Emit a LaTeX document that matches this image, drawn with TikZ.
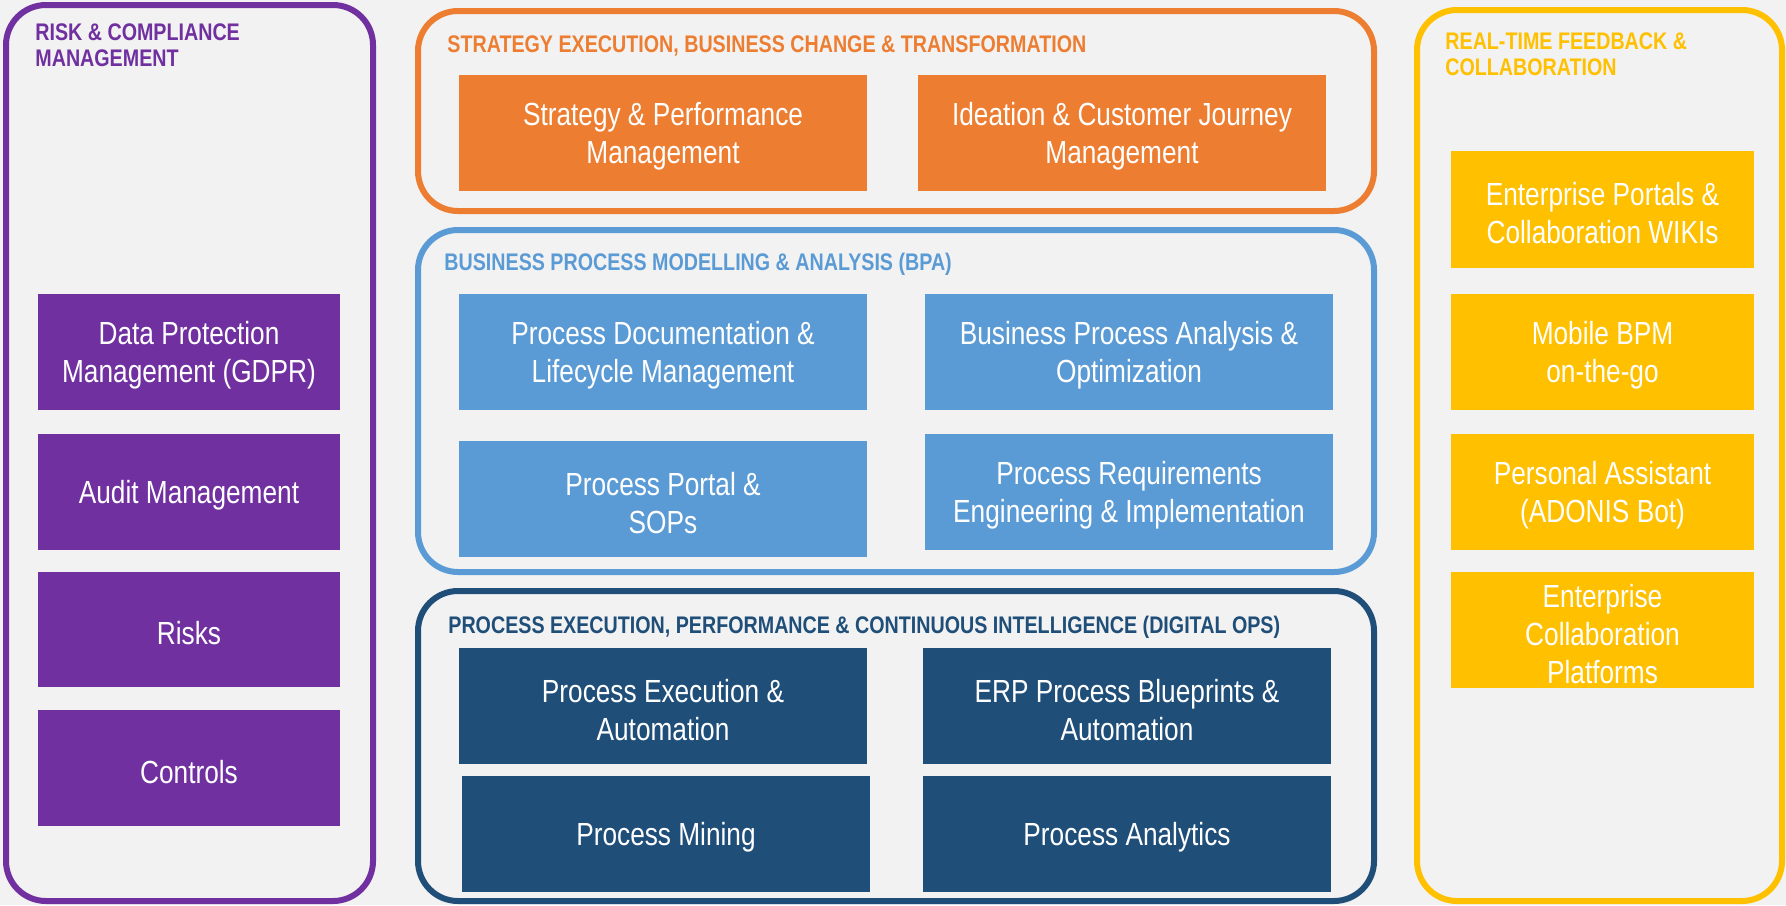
\documentclass[tikz,border=0pt]{standalone}
\usepackage{fontspec}
\setmainfont{Liberation Sans}[FakeStretch=0.82]
\usetikzlibrary{fit}
\definecolor{bg}{HTML}{F2F2F2}
\definecolor{cpurple}{HTML}{7030A0}
\definecolor{corange}{HTML}{ED7D31}
\definecolor{cblue}{HTML}{5B9BD5}
\definecolor{cdark}{HTML}{1F4E79}
\definecolor{cyellow}{HTML}{FFC000}
\tikzset{
  cont/.style={draw=#1, line width=3pt, rounded corners=20pt, inner sep=0pt},
  ttl/.style={text=#1, font=\bfseries\fontsize{12}{13}\selectfont, anchor=base west, inner sep=0pt, align=left},
  bx/.style={fill=#1, inner sep=0pt},
  txt/.style={inner sep=0pt, text=white, align=center, anchor=center, yshift=-1.8pt, font=\fontsize{16}{19}\selectfont},
}
\begin{document}
\begin{tikzpicture}[x=0.5pt,y=-0.5pt]
\useasboundingbox (0,0) rectangle (1786,905);
\fill[bg] (0,0) rectangle (1786,905);
% containers
\node[cont=cpurple, fit={(6,5) (373,901)}] (riskc) {};
\node[cont=corange, fit={(418,11) (1374,211)}] (stratc) {};
\node[cont=cblue, fit={(418,230) (1374,572)}] (bpac) {};
\node[cont=cdark, fit={(418,591) (1374,901)}] (opsc) {};
\node[cont=cyellow, fit={(1417,10) (1782,901)}] (feedc) {};
% titles
\node[ttl=cpurple] (riskt) at (35,66) {RISK \& COMPLIANCE\\MANAGEMENT};
\node[ttl=corange] (stratt) at (447,52) {STRATEGY EXECUTION, BUSINESS CHANGE \& TRANSFORMATION};
\node[ttl=cblue] (bpat) at (444,270) {BUSINESS PROCESS MODELLING \& ANALYSIS (BPA)};
\node[ttl=cdark] (opst) at (448,633) {PROCESS EXECUTION, PERFORMANCE \& CONTINUOUS INTELLIGENCE (DIGITAL OPS)};
\node[ttl=cyellow] (feedt) at (1445,75) {REAL-TIME FEEDBACK \&\\COLLABORATION};
% purple boxes
\node[bx=cpurple, fit={(38,294) (340,410)}] (dp) {};
\node[bx=cpurple, fit={(38,434) (340,550)}] (audit) {};
\node[bx=cpurple, fit={(38,572) (340,687)}] (risks) {};
\node[bx=cpurple, fit={(38,710) (340,826)}] (controls) {};
\node[txt] (dpt) at (dp.center) {Data Protection\\Management (GDPR)};
\node[txt] (auditt) at (audit.center) {Audit Management};
\node[txt] (riskst) at (risks.center) {Risks};
\node[txt] (controlst) at (controls.center) {Controls};
% orange boxes
\node[bx=corange, fit={(459,75) (867,191)}] (spm) {};
\node[bx=corange, fit={(918,75) (1326,191)}] (icj) {};
\node[txt] (spmt) at (spm.center) {Strategy \& Performance\\Management};
\node[txt] (icjt) at (icj.center) {Ideation \& Customer Journey\\Management};
% blue boxes
\node[bx=cblue, fit={(459,294) (867,410)}] (pdl) {};
\node[bx=cblue, fit={(925,294) (1333,410)}] (bpa) {};
\node[bx=cblue, fit={(459,441) (867,557)}] (pps) {};
\node[bx=cblue, fit={(925,434) (1333,550)}] (pre) {};
\node[txt] (pdlt) at (pdl.center) {Process Documentation \&\\Lifecycle Management};
\node[txt] (bpat2) at (bpa.center) {Business Process Analysis \&\\Optimization};
\node[txt] (ppst) at (pps.center) {Process Portal \&\\SOPs};
\node[txt] (pret) at (pre.center) {Process Requirements\\Engineering \& Implementation};
% dark boxes
\node[bx=cdark, fit={(459,648) (867,764)}] (pea) {};
\node[bx=cdark, fit={(923,648) (1331,764)}] (erp) {};
\node[bx=cdark, fit={(462,776) (870,892)}] (pm) {};
\node[bx=cdark, fit={(923,776) (1331,892)}] (pa) {};
\node[txt] (peat) at (pea.center) {Process Execution \&\\Automation};
\node[txt] (erpt) at (erp.center) {ERP Process Blueprints \&\\Automation};
\node[txt] (pmt) at (pm.center) {Process Mining};
\node[txt] (pat) at (pa.center) {Process Analytics};
% yellow boxes
\node[bx=cyellow, fit={(1451,151) (1754,268)}] (epw) {};
\node[bx=cyellow, fit={(1451,294) (1754,410)}] (mob) {};
\node[bx=cyellow, fit={(1451,434) (1754,550)}] (pab) {};
\node[bx=cyellow, fit={(1451,572) (1754,688)}] (ecp) {};
\node[txt] (epwt) at (epw.center) {Enterprise Portals \&\\Collaboration WIKIs};
\node[txt] (mobt) at (mob.center) {Mobile BPM\\on-the-go};
\node[txt] (pabt) at (pab.center) {Personal Assistant\\(ADONIS Bot)};
\node[txt] (ecpt) at (ecp.center) {Enterprise\\Collaboration\\Platforms};
\end{tikzpicture}
\end{document}
